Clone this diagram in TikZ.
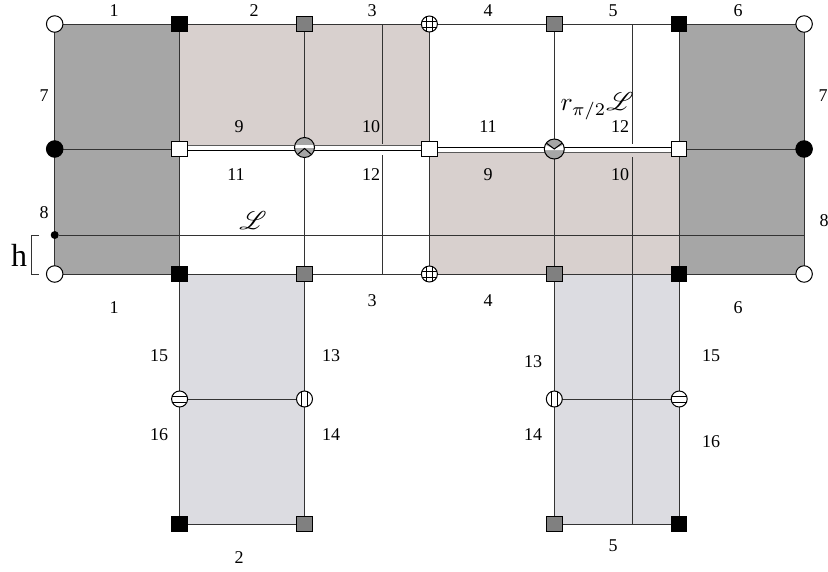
\documentclass[tikz,border=0pt]{standalone}
\usepackage{fontspec}
\usepackage{mathrsfs}
\setmainfont{Liberation Serif}
\usepackage{tikz}
\usetikzlibrary{positioning,backgrounds,calc}

\definecolor{sidegray}{HTML}{A6A6A6}
\definecolor{rosegray}{HTML}{D8D0CE}
\definecolor{palegray}{HTML}{DCDCE1}
\definecolor{markgray}{HTML}{808080}

\begin{document}
\begin{tikzpicture}[
    x=1pt, y=1pt,
    node distance=125pt and 124.9pt,
    on grid,
    marker/.style={draw=black, line width=1pt, inner sep=0pt, outer sep=0pt},
    whitedisc/.style={marker, circle, fill=white, minimum size=16.5pt},
    blackdisc/.style={marker, circle, fill=black, minimum size=16.5pt},
    blacksq/.style={marker, rectangle, fill=black, minimum size=15.5pt},
    graysq/.style={marker, rectangle, fill=markgray, minimum size=15.5pt},
    whitesq/.style={marker, rectangle, fill=white, minimum size=15.5pt},
    crossdisc/.style={marker, circle, fill=white, minimum size=16pt, path picture={
        \draw[line width=0.9pt] ($(path picture bounding box.center)+(-3,-9)$) -- ++(0,18);
        \draw[line width=0.9pt] ($(path picture bounding box.center)+(3,-9)$) -- ++(0,18);
        \draw[line width=0.9pt] ($(path picture bounding box.center)+(-9,3)$) -- ++(18,0);
        \draw[line width=0.9pt] ($(path picture bounding box.center)+(-9,-3)$) -- ++(18,0);}},
    vstripe/.style={marker, circle, fill=white, minimum size=16pt, path picture={
        \draw[line width=0.9pt] ($(path picture bounding box.center)+(-3,-9)$) -- ++(0,18);
        \draw[line width=0.9pt] ($(path picture bounding box.center)+(3,-9)$) -- ++(0,18);}},
    hstripe/.style={marker, circle, fill=white, minimum size=16pt, path picture={
        \draw[line width=0.9pt] ($(path picture bounding box.center)+(-9,3)$) -- ++(18,0);
        \draw[line width=0.9pt] ($(path picture bounding box.center)+(-9,-3)$) -- ++(18,0);}},
    chevup/.style={marker, circle, fill=sidegray, minimum size=20pt, yshift=1.5pt, path picture={
        \fill[white] ($(path picture bounding box.center)+(-11,0)$) rectangle ++(22,2.5);
        \draw[line width=1pt] ($(path picture bounding box.center)+(-8,-8)$) -- ++(8,7) -- ++(8,-7);}},
    chevdown/.style={marker, circle, fill=sidegray, minimum size=20pt, path picture={
        \fill[white] ($(path picture bounding box.center)+(-11,-1)$) -- ++(22,0) -- ++(0,6) -- ++(-11,-5) -- ++(-11,5) -- cycle;
        \draw[line width=1pt] ($(path picture bounding box.center)+(-8,6)$) -- ++(8,-6) -- ++(8,6);}},
    dotmark/.style={circle, fill=black, inner sep=0pt, minimum size=8pt},
    linepart/.style={draw=black!80, line width=0.9pt},
    num/.style={font=\fontsize{18}{20}\selectfont, inner sep=0pt},
    mathname/.style={inner sep=0pt, transform shape, scale=2.55}
]
\useasboundingbox (0,0) rectangle (828,-571);

% Top row
\node[whitedisc] (t1) at (54.7,-24) {};
\node[blacksq, right=of t1] (t2) {};
\node[graysq, right=of t2] (t3) {};
\node[crossdisc, right=of t3] (t4) {};
\node[graysq, right=of t4] (t5) {};
\node[blacksq, right=of t5] (t6) {};
\node[whitedisc, right=of t6] (t7) {};

% Middle row
\node[blackdisc, below=of t1] (m1) {};
\node[whitesq, below=of t2] (m2) {};
\node[chevup, below=of t3] (m3) {};
\node[whitesq, below=of t4] (m4) {};
\node[chevdown, below=of t5] (m5) {};
\node[whitesq, below=of t6] (m6) {};
\node[blackdisc, below=of t7] (m7) {};

% Bottom row
\node[whitedisc, below=of m1] (b1) {};
\node[blacksq, below=of m2] (b2) {};
\node[graysq, below=of m3, yshift=-1.5pt] (b3) {};
\node[crossdisc, below=of m4] (b4) {};
\node[graysq, below=of m5] (b5) {};
\node[blacksq, below=of m6] (b6) {};
\node[whitedisc, below=of m7] (b7) {};

% Legs
\node[hstripe, below=of b2] (l2) {};
\node[vstripe, below=of b3] (l3) {};
\node[vstripe, below=of b5] (l5) {};
\node[hstripe, below=of b6] (l6) {};
\node[blacksq, below=of l2] (f2) {};
\node[graysq, below=of l3] (f3) {};
\node[graysq, below=of l5] (f5) {};
\node[blacksq, below=of l6] (f6) {};

% Line end points
\node[dotmark] (d1) at (54.7,-235) {};
\coordinate (d7) at (804,-235);
\coordinate (p1) at (382.5,-24);
\coordinate (p2) at (382.5,-144);
\coordinate (p3) at (382.5,-155);
\coordinate (p4) at (382.5,-274);
\coordinate (q1) at (632,-24);
\coordinate (q2) at (632,-144);
\coordinate (q3) at (632,-157);
\coordinate (q4) at (632,-524);

\begin{scope}[on background layer]
% Shaded faces
\fill[sidegray] (t1.center) rectangle (b2.center);
\fill[sidegray] (t6.center) rectangle (b7.center);
\fill[rosegray] (t2.center) rectangle ($(m4.center)+(0,4)$);
\fill[rosegray] ($(m4.center)+(0,-3)$) rectangle (b6.center);
\fill[palegray] (b2.center) rectangle (f3.center);
\fill[palegray] (b5.center) rectangle (f6.center);

% Edges
\draw[linepart] (t1) -- (t2);
\draw[linepart] (t2) -- (t3);
\draw[linepart] (t3) -- (t4);
\draw[linepart] (t4) -- (t5);
\draw[linepart] (t5) -- (t6);
\draw[linepart] (t6) -- (t7);
\draw[linepart] (b1) -- (b2);
\draw[linepart] (b2) -- (b3);
\draw[linepart] (b3) -- (b4);
\draw[linepart] (b4) -- (b5);
\draw[linepart] (b5) -- (b6);
\draw[linepart] (b6) -- (b7);
\draw[linepart] (m1) -- (m2);
\draw[linepart] (m6) -- (m7);
\draw[linepart] (d1) -- (d7);
\draw[linepart] (t1) -- (m1);
\draw[linepart] (m1) -- (b1);
\draw[linepart] (t7) -- (m7);
\draw[linepart] (m7) -- (b7);
\draw[linepart] (t2) -- (m2);
\draw[linepart] (m2) -- (b2);
\draw[linepart] (t3) -- (m3);
\draw[linepart] (m3) -- (b3);
\draw[linepart] (t4) -- (m4);
\draw[linepart] (m4) -- (b4);
\draw[linepart] (t5) -- (m5);
\draw[linepart] (m5) -- (b5);
\draw[linepart] (t6) -- (m6);
\draw[linepart] (m6) -- (b6);
\draw[linepart] (b2) -- (l2);
\draw[linepart] (l2) -- (f2);
\draw[linepart] (b3) -- (l3);
\draw[linepart] (l3) -- (f3);
\draw[linepart] (b5) -- (l5);
\draw[linepart] (l5) -- (f5);
\draw[linepart] (b6) -- (l6);
\draw[linepart] (l6) -- (f6);
\draw[linepart] (l2) -- (l3);
\draw[linepart] (l5) -- (l6);
\draw[linepart] (f2) -- (f3);
\draw[linepart] (f5) -- (f6);
\draw[linepart] (p1) -- (p2);
\draw[linepart] (p3) -- (p4);
\draw[linepart] (q1) -- (q2);
\draw[linepart] (q3) -- (q4);

% Slit along the middle
\draw[linepart, draw=black!65] ($(m2.center)+(0,4)$) -- ($(m4.center)+(0,4)$);
\draw[linepart, draw=black] ($(m2.center)+(0,-1)$) -- ($(m4.center)+(0,-1)$);
\draw[linepart, draw=black] ($(m4.center)+(0,2)$) -- ($(m6.center)+(0,2)$);
\draw[linepart, draw=black!65] ($(m4.center)+(0,-3)$) -- ($(m6.center)+(0,-3)$);
\end{scope}

% Labels above
\node[num] (n1a) at (114,-10.5) {1};
\node[num] (n2a) at (254,-10.5) {2};
\node[num] (n3a) at (372,-10.5) {3};
\node[num] (n4a) at (488,-10.5) {4};
\node[num] (n5a) at (613,-10.5) {5};
\node[num] (n6a) at (738,-10.5) {6};

% Labels on the sides
\node[num] (n7a) at (44,-96) {7};
\node[num] (n7b) at (823,-96) {7};
\node[num] (n8a) at (44,-213) {8};
\node[num] (n8b) at (824,-221) {8};

% Labels around the slit
\node[num] (n9a) at (239,-127) {9};
\node[num] (n10a) at (371,-127) {10};
\node[num] (n11a) at (488,-127) {11};
\node[num] (n12a) at (620,-127) {12};
\node[num] (n11b) at (236,-175) {11};
\node[num] (n12b) at (371,-175) {12};
\node[num] (n9b) at (488,-175) {9};
\node[num] (n10b) at (620,-175) {10};

% Line names
\node[mathname] (linel) at (253,-221) {$\mathscr{L}$};
\node[mathname] (liner) at (597,-106) {$r_{\pi/2}\mathscr{L}$};

% Height mark
\node[font=\fontsize{32}{34}\selectfont, inner sep=0pt] (hlabel) at (19,-255) {h};
\coordinate (h1) at (39,-235);
\coordinate (h2) at (31,-235);
\coordinate (h3) at (31,-274);
\coordinate (h4) at (39,-274);
\draw[black!80, line width=0.7pt] (h1) -- (h2) -- (h3) -- (h4);

% Labels below
\node[num] (n1b) at (114,-308) {1};
\node[num] (n3b) at (372,-301) {3};
\node[num] (n4b) at (488,-301) {4};
\node[num] (n6b) at (738,-308) {6};
\node[num] (n15a) at (159,-356) {15};
\node[num] (n13a) at (331,-356) {13};
\node[num] (n13b) at (533,-362) {13};
\node[num] (n15b) at (711,-356) {15};
\node[num] (n16a) at (159,-435) {16};
\node[num] (n14a) at (331,-435) {14};
\node[num] (n14b) at (533,-435) {14};
\node[num] (n16b) at (711,-442) {16};
\node[num] (n2b) at (239,-558) {2};
\node[num] (n5b) at (613,-546) {5};

\end{tikzpicture}
\end{document}
